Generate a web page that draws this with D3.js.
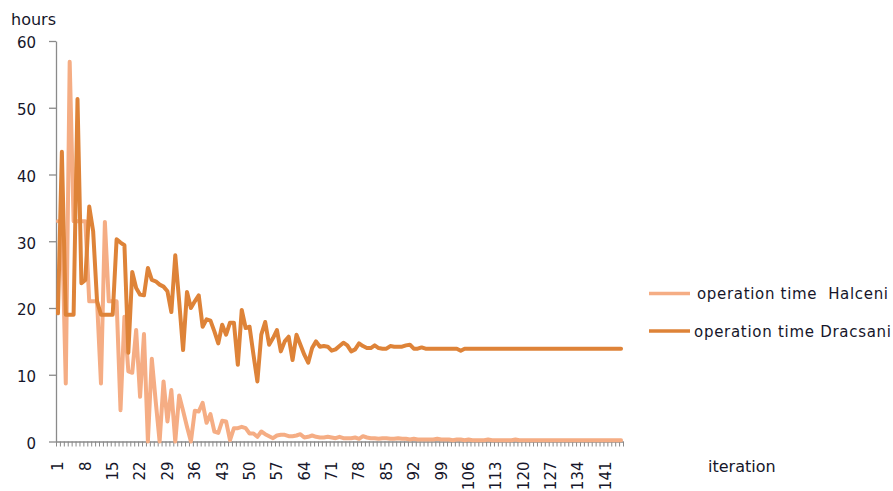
<!DOCTYPE html>
<html><head><meta charset="utf-8">
<script src="https://cdn.jsdelivr.net/npm/d3@7"></script>
<style>
body{margin:0;background:#fff}
svg{display:block}
text{font-family:"DejaVu Sans",Verdana,sans-serif;fill:#16162a}
</style>
</head><body><svg id="c" width="893" height="491"></svg>
<script>
const iterations = d3.range(1, 146);
const halceni = [
 33, 33, 8.7, 56.9, 33, 33, 33, 33, 21, 21,
 21, 8.7, 32.9, 21, 21, 21, 4.7, 18.7, 10.5, 10.3,
 16.7, 6.7, 16.1, 0, 12.4, 6, 0, 9, 3, 7.7,
 0, 6.9, 4.6, 2.2, 0, 4.6, 4.5, 5.8, 2.8, 4.1,
 1.5, 1.3, 3.1, 3.0, 0.2, 2.0, 2.0, 2.2, 2.0, 1.2,
 1.2, 0.7, 1.5, 1.1, 0.8, 0.5, 0.9, 1.0, 1.0, 0.8,
 0.8, 0.9, 1.1, 0.6, 0.7, 0.9, 0.7, 0.6, 0.6, 0.7,
 0.6, 0.5, 0.7, 0.5, 0.5, 0.5, 0.6, 0.4, 0.8, 0.6,
 0.5, 0.5, 0.4, 0.5, 0.5, 0.4, 0.4, 0.5, 0.4, 0.4,
 0.3, 0.4, 0.3, 0.3, 0.3, 0.3, 0.3, 0.4, 0.3, 0.3,
 0.3, 0.2, 0.3, 0.3, 0.2, 0.3, 0.2, 0.2, 0.2, 0.2,
 0.3, 0.2, 0.2, 0.2, 0.2, 0.2, 0.2, 0.3, 0.2, 0.2,
 0.2, 0.2, 0.2, 0.2, 0.2, 0.2, 0.2, 0.2, 0.2, 0.2,
 0.2, 0.2, 0.2, 0.2, 0.2, 0.2, 0.2, 0.2, 0.2, 0.2,
 0.2, 0.2, 0.2, 0.2, 0.2
];
const dracsani = [
 19.2, 43.4, 19, 19, 19, 51.3, 23.7, 24.2, 35.2, 31.5,
 21, 19, 19, 19, 19, 30.3, 29.8, 29.4, 13.3, 25.4,
 23, 22, 21.9, 26, 24.2, 24, 23.5, 23.2, 22.5, 19.4,
 27.9, 21, 13.7, 22.4, 20, 21, 21.9, 17.2, 18.3, 18.1,
 16.5, 14.7, 17.5, 16, 17.8, 17.8, 11.5, 19.7, 17, 17.2,
 13, 9, 16, 17.9, 14.5, 15.5, 16.7, 13.5, 15, 15.7,
 12.2, 16, 14.5, 13, 11.8, 14, 15, 14.2, 14.3, 14.2,
 13.6, 13.8, 14.3, 14.8, 14.4, 13.5, 13.8, 14.7, 14.3, 14.0,
 14.0, 14.4, 14.0, 13.9, 13.9, 14.3, 14.2, 14.2, 14.2, 14.4,
 14.5, 13.9, 13.9, 14.1, 13.9, 13.9, 13.9, 13.9, 13.9, 13.9,
 13.9, 13.9, 13.9, 13.6, 13.9, 13.9, 13.9, 13.9, 13.9, 13.9,
 13.9, 13.9, 13.9, 13.9, 13.9, 13.9, 13.9, 13.9, 13.9, 13.9,
 13.9, 13.9, 13.9, 13.9, 13.9, 13.9, 13.9, 13.9, 13.9, 13.9,
 13.9, 13.9, 13.9, 13.9, 13.9, 13.9, 13.9, 13.9, 13.9, 13.9,
 13.9, 13.9, 13.9, 13.9, 13.9
];
const yTickValues = [0, 10, 20, 30, 40, 50, 60];
const xTickLabels = d3.range(1, 146, 7);
const seriesNames = ["operation time  Halceni", "operation time Dracsani"];
const seriesColors = ["#f5ad84", "#de8338"];
const axisTitles = ["hours", "iteration"];

const svg = d3.select("#c");
const plotL = 56, plotR = 623, plotT = 41, plotB = 441.5;

const x = d3.scaleBand().domain(iterations).range([plotL, plotR]).padding(0);
const xEdge = d3.scaleLinear().domain([0, iterations.length]).range([plotL, plotR]);
const y = d3.scaleLinear().domain([0, 60]).range([plotB, plotT]);

const axisColor = "#8a8a8a";
const textColor = "#16162a";

// y axis
const gy = svg.append("g").attr("transform", `translate(${plotL},0)`)
  .call(d3.axisLeft(y).tickValues(yTickValues).tickSize(7).tickPadding(13).tickSizeOuter(0));
gy.select(".domain").attr("stroke", axisColor).attr("stroke-width", 1.3);
gy.selectAll(".tick line").attr("stroke", axisColor).attr("stroke-width", 1.3);
gy.selectAll(".tick text").attr("font-size", 15).attr("font-family", "DejaVu Sans").attr("fill", textColor).attr("dy", "0.45em");

// x boundary ticks
const gxt = svg.append("g").attr("transform", `translate(0,${plotB})`)
  .call(d3.axisBottom(xEdge).tickValues(d3.range(0, iterations.length + 1)).tickSize(5).tickSizeOuter(0).tickFormat(""));
gxt.select(".domain").attr("stroke", axisColor).attr("stroke-width", 1.3);
gxt.selectAll(".tick line").attr("stroke", axisColor).attr("stroke-width", 1);

// x labels
const gx = svg.append("g").attr("transform", `translate(0,${plotB})`)
  .call(d3.axisBottom(x).tickValues(xTickLabels).tickSize(0).tickSizeOuter(0));
gx.select(".domain").remove();
gx.selectAll(".tick text")
  .attr("font-size", 15).attr("font-family", "DejaVu Sans").attr("fill", textColor)
  .attr("transform", "rotate(-90)")
  .attr("text-anchor", "end")
  .attr("x", -20).attr("y", 0).attr("dy", "0.36em");

// lines
const line = d3.line().x((d, i) => x(iterations[i]) + x.bandwidth() / 2).y(d => y(d));
[halceni, dracsani].forEach((s, k) => {
  svg.append("path").datum(s)
    .attr("fill", "none").attr("stroke", seriesColors[k])
    .attr("stroke-width", 4).attr("stroke-linejoin", "round").attr("stroke-linecap", "round")
    .attr("d", line);
});

// axis titles
svg.append("text").attr("x", 11).attr("y", 25).attr("font-size", 16).attr("fill", textColor).text(axisTitles[0]);
svg.append("text").attr("x", 708).attr("y", 472).attr("font-size", 16).attr("fill", textColor).text(axisTitles[1]);

// legend
const legY = [293.5, 331];
const legTextX = [697, 694];
const legLen = [191, 197];
seriesNames.forEach((n, k) => {
  svg.append("line").attr("x1", 649).attr("x2", 690).attr("y1", legY[k]).attr("y2", legY[k])
    .attr("stroke", seriesColors[k]).attr("stroke-width", 3.6);
  svg.append("text").attr("x", legTextX[k]).attr("y", legY[k] + 5.5)
    .attr("font-size", 15).attr("fill", textColor).style("white-space", "pre")
    .attr("textLength", legLen[k]).attr("lengthAdjust", "spacing")
    .text(n);
});
</script>
</body></html>
